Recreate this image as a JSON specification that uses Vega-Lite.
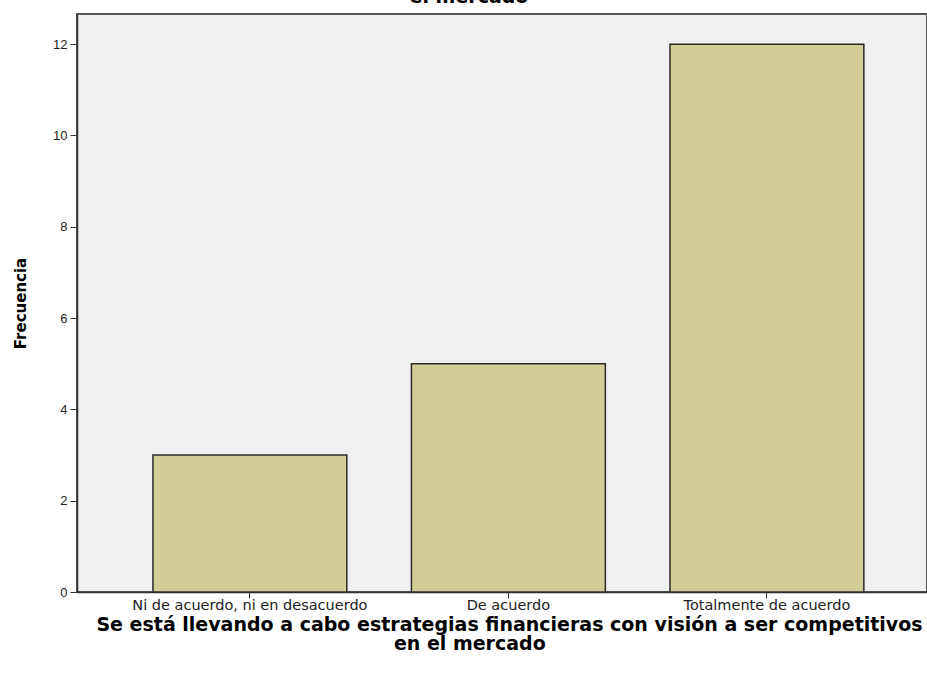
{
  "$schema": "https://vega.github.io/schema/vega-lite/v6.json",
  "autosize": "none",
  "width": 850,
  "height": 578,
  "padding": {"left": 77, "top": 14, "right": 0, "bottom": 90},
  "background": "white",
  "title": {
    "text": ["Se está llevando a cabo estrategias financieras con visión a ser competitivos en", "el mercado"],
    "font": "DejaVu Sans",
    "fontSize": 19,
    "fontWeight": "bold",
    "color": "#000000",
    "anchor": "middle",
    "baseline": "bottom",
    "dx": -33,
    "dy": 12,
    "offset": 0,
    "lineHeight": 19
  },
  "config": {
    "view": {"fill": "#F0F0F0", "stroke": "#555555", "strokeWidth": 2},
    "axis": {"labelFont": "Liberation Sans", "titleFont": "DejaVu Sans", "grid": false}
  },
  "data": {
    "values": [
      {"categoria": "Ni de acuerdo, ni en desacuerdo", "frecuencia": 3},
      {"categoria": "De acuerdo", "frecuencia": 5},
      {"categoria": "Totalmente de acuerdo", "frecuencia": 12}
    ]
  },
  "mark": {"type": "bar", "fill": "#D3CE97", "stroke": "#2B2B2B", "strokeWidth": 1.5},
  "encoding": {
    "x": {
      "field": "categoria",
      "type": "nominal",
      "sort": null,
      "scale": {"paddingInner": 0.25, "paddingOuter": 0.269, "align": 0.546},
      "axis": {
        "title": ["Se está llevando a cabo estrategias financieras con visión a ser competitivos", "en el mercado\u00a0\u00a0\u00a0\u00a0\u00a0\u00a0\u00a0\u00a0\u00a0\u00a0\u00a0\u00a0\u200b"],
        "titleFontSize": 19,
        "titleFontWeight": "bold",
        "titleColor": "#000000",
        "titleAnchor": "start",
        "titleAlign": "center",
        "titleBaseline": "top",
        "titleX": 432,
        "titleY": 23,
        "titleLineHeight": 19,
        "labelAngle": 0,
        "labelFont": "DejaVu Sans",
        "labelFontSize": 14.5,
        "labelLimit": 400,
        "labelOverlap": false,
        "labelColor": "#222222",
        "labelPadding": 0,
        "tickSize": 6,
        "tickColor": "#333333",
        "domainColor": "#333333",
        "domainWidth": 1.5
      }
    },
    "y": {
      "field": "frecuencia",
      "type": "quantitative",
      "scale": {"domain": [0, 12.66], "nice": false},
      "axis": {
        "title": "Frecuencia",
        "titleFontSize": 15,
        "titleFontWeight": "bold",
        "titleColor": "#000000",
        "titlePadding": 24,
        "values": [0, 2, 4, 6, 8, 10, 12],
        "labelFontSize": 13,
        "labelColor": "#222222",
        "labelPadding": 3,
        "tickSize": 7,
        "tickColor": "#333333",
        "domainColor": "#333333",
        "domainWidth": 1.5
      }
    }
  }
}
